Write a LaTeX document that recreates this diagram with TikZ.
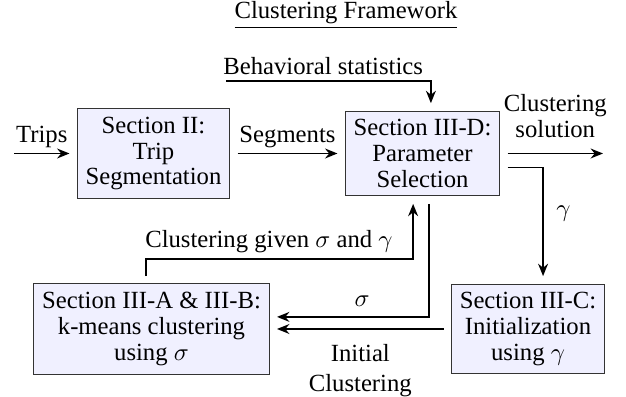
\documentclass[tikz,border=0pt]{standalone}
\usepackage{fontspec}
\setmainfont{Liberation Serif}
\usetikzlibrary{arrows.meta}
\definecolor{boxfill}{RGB}{240,240,255}
\begin{document}
\begin{tikzpicture}[x=0.405pt,y=-0.405pt,
  every node/.style={font=\fontsize{10}{10.5}\selectfont},
  box/.style={draw=black!80, line width=0.4pt, fill=boxfill, align=center, inner sep=3.33pt, outer sep=3.2pt},
  lbl/.style={align=center, inner sep=2pt},
  arr/.style={-{Stealth[length=5pt,width=4pt]}, line width=0.75pt}]
\useasboundingbox (0,0) rectangle (626,397);
\node (title) at (346,15) {\underline{Clustering Framework}};
\node[box] (b1) at (153.5,153.5) {Section II:\\Trip\\Segmentation};
\node[box] (b2) at (422.5,153.5) {Section III-D:\\Parameter\\Selection};
\node[box] (b3) at (151.5,329) {Section III-A \& III-B:\\k-means clustering\\using $\sigma$};
\node[box] (b4) at (528,329) {Section III-C:\\Initialization\\using $\gamma$};
\coordinate (trips) at (14,153.5);
\coordinate (bs) at (226,81);
\coordinate (cs) at (603,153.5);
\draw[arr] (trips) -- (b1.west) node[lbl, midway, above, name=ltrips] {Trips};
\draw[arr] (b1.east) -- (b2.west) node[lbl, midway, above, name=lseg] {Segments};
\draw[arr] (bs) -| ([xshift=3.4pt]b2.north) node[lbl, pos=0.237, above, name=lbs] {Behavioral statistics};
\draw[arr] (b2.east) -- (cs) node[lbl, midway, above=4pt, name=lcs] {Clustering\\solution};
\draw[arr] ([yshift=-5.7pt]b2.east) -| ([xshift=6.1pt]b4.north) node[lbl, pos=0.71, right=3pt, name=lgam] {$\gamma$};
\draw[arr] ([xshift=2.6pt]b2.south) |- ([yshift=4.9pt]b3.east) node[lbl, pos=0.72, above=2pt, name=lsig] {$\sigma$};
\draw[arr] (b4.west) -- (b3.east) node[lbl, midway, below=4pt, font=\fontsize{10}{12}\selectfont, name=linit] {Initial\\Clustering};
\draw[arr] ([xshift=-2.2pt]b3.north) -- ++(0,-17) -| ([xshift=-3.8pt]b2.south) node[lbl, pos=0.23, above, name=lloop] {Clustering given $\sigma$ and $\gamma$};
\end{tikzpicture}
\end{document}
